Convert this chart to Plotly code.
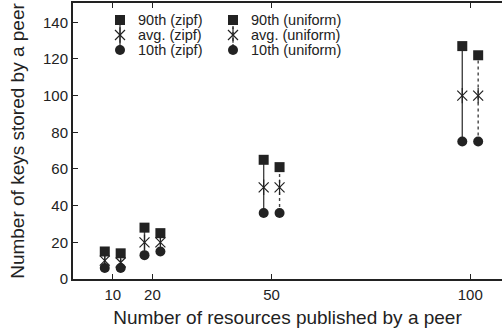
import plotly.graph_objects as go

# ---- data ----
resources = [10, 20, 50, 100]
zipf_p90 = [15, 28, 65, 127]
zipf_avg = [10, 20, 50, 100]
zipf_p10 = [6, 13, 36, 75]
uni_p90 = [14, 25, 61, 122]
uni_avg = [9, 20, 50, 100]
uni_p10 = [6, 15, 36, 75]
x_ticks = [10, 20, 50, 100]
y_ticks = [0, 20, 40, 60, 80, 100, 120, 140]

FONT = "Liberation Sans, Arial, sans-serif"
INK = "#222222"
LINE = "#444444"
OFF = 2.0

fig = go.Figure()

def star_traces(xs, ys, xaxis="x", yaxis="y"):
    fig.add_trace(go.Scatter(x=xs, y=ys, mode="markers", showlegend=False,
                             xaxis=xaxis, yaxis=yaxis, hoverinfo="skip",
                             marker=dict(symbol="x-thin-open", size=10, color=INK,
                                         line=dict(color=INK, width=1.2))))
    fig.add_trace(go.Scatter(x=xs, y=ys, mode="markers", showlegend=False,
                             xaxis=xaxis, yaxis=yaxis, hoverinfo="skip",
                             marker=dict(symbol="line-ns-open", size=11, color=INK,
                                         line=dict(color=INK, width=1.2))))

def add_series(xs, p90, avg, p10, dash):
    lx, ly = [], []
    for x, hi, lo in zip(xs, p90, p10):
        lx += [x, x, None]
        ly += [lo, hi, None]
    fig.add_trace(go.Scatter(x=lx, y=ly, mode="lines",
                             line=dict(color=LINE, width=1.4, dash=dash),
                             showlegend=False, hoverinfo="skip"))
    fig.add_trace(go.Scatter(x=xs, y=p90, mode="markers", showlegend=False,
                             marker=dict(symbol="square", size=10, color=INK)))
    star_traces(xs, avg)
    fig.add_trace(go.Scatter(x=xs, y=p10, mode="markers", showlegend=False,
                             marker=dict(symbol="circle", size=10, color=INK)))

add_series([r - OFF for r in resources], zipf_p90, zipf_avg, zipf_p10, "solid")
add_series([r + OFF for r in resources], uni_p90, uni_avg, uni_p10, "dot")

# ---- legend drawn on an overlay axis in pixel units ----
leg_labels = [["90th (zipf)", "avg. (zipf)", "10th (zipf)"],
              ["90th (uniform)", "avg. (uniform)", "10th (uniform)"]]
leg_x = [120, 233]
leg_y = [20, 35, 50]
for col, (lx, dash) in enumerate(zip(leg_x, ["solid", "dot"])):
    fig.add_trace(go.Scatter(x=[lx, lx], y=[leg_y[0], leg_y[2]], mode="lines",
                             xaxis="x2", yaxis="y2", showlegend=False, hoverinfo="skip",
                             line=dict(color=LINE, width=1.4, dash=dash)))
    fig.add_trace(go.Scatter(x=[lx], y=[leg_y[0]], mode="markers", xaxis="x2", yaxis="y2",
                             showlegend=False, marker=dict(symbol="square", size=10, color=INK)))
    star_traces([lx], [leg_y[1]], "x2", "y2")
    fig.add_trace(go.Scatter(x=[lx], y=[leg_y[2]], mode="markers", xaxis="x2", yaxis="y2",
                             showlegend=False, marker=dict(symbol="circle", size=10, color=INK)))
    for row, txt in enumerate(leg_labels[col]):
        fig.add_annotation(x=lx + 17, y=leg_y[row], xref="x2", yref="y2", text=txt,
                           showarrow=False, xanchor="left", yanchor="middle", borderpad=0,
                           font=dict(family=FONT, size=14.5, color=INK))

fig.update_layout(
    width=502, height=333,
    margin=dict(l=73, r=0, t=3, b=54),
    paper_bgcolor="white", plot_bgcolor="white",
    font=dict(family=FONT, color=INK),
    xaxis=dict(range=[0, 108], tickvals=x_ticks, ticktext=[str(v) for v in x_ticks],
               ticks="inside", ticklen=5, tickcolor=INK, tickwidth=1,
               showline=True, linecolor=INK, linewidth=2, mirror="ticks",
               showgrid=False, zeroline=False, ticklabelstandoff=1,
               tickfont=dict(size=15, family=FONT, color=INK),
               title=dict(text="Number of resources published by a peer",
                          font=dict(size=19, family=FONT, color=INK), standoff=9)),
    yaxis=dict(range=[0, 150.5], tickvals=y_ticks,
               ticks="inside", ticklen=5, tickcolor=INK, tickwidth=1,
               showline=True, linecolor=INK, linewidth=2,
               showgrid=False, zeroline=False, ticklabelstandoff=0,
               tickfont=dict(size=15, family=FONT, color=INK),
               title=dict(text="Number of keys stored by a peer",
                          font=dict(size=19, family=FONT, color=INK), standoff=13)),
    xaxis2=dict(overlaying="x", range=[73, 502], visible=False, fixedrange=True),
    yaxis2=dict(overlaying="y", range=[279, 3], visible=False, fixedrange=True),
    showlegend=False,
)

fig.write_html("out.html")
